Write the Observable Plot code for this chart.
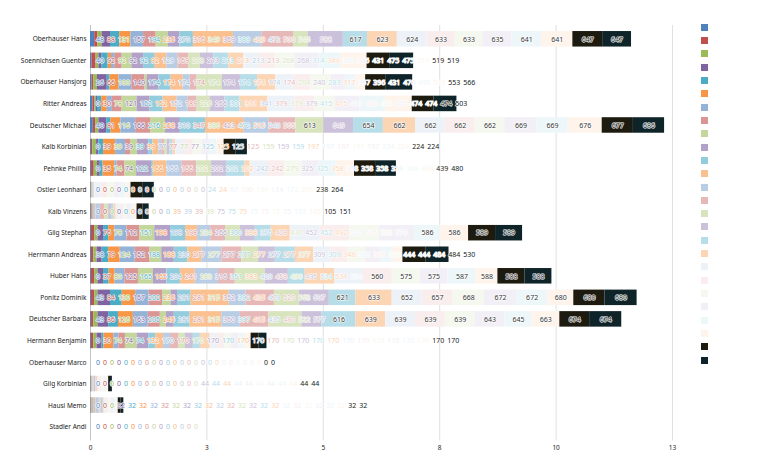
<!DOCTYPE html>
<html><head><meta charset="utf-8">
<script src="https://cdn.jsdelivr.net/npm/d3@7"></script>
<script src="https://cdn.jsdelivr.net/npm/@observablehq/plot@0.6"></script>
<style>
body{margin:0;background:#fff;font-family:"Noto Sans",sans-serif}
#wrap{position:relative;width:768px;height:475px;overflow:hidden}
#legend{position:absolute;left:700.5px;top:23.8px}
#legend div{width:7px;height:7px;margin-bottom:6.32px}
</style></head><body>
<div id="wrap"><div id="chart"></div><div id="legend"></div></div>
<script>
// ---------- data ----------
const players = ["Oberhauser Hans","Soennichsen Guenter","Oberhauser Hansjorg","Ritter Andreas","Deutscher Michael","Kalb Korbinian","Pehnke Phillip","Ostler Leonhard","Kalb Vinzens","Gilg Stephan","Herrmann Andreas","Huber Hans","Ponitz Dominik","Deutscher Barbara","Hermann Benjamin","Oberhauser Marco","Gilg Korbinian","Hausl Memo","Stadler Andi"];
const seriesKeys = ["S1","S2","S3","S4","S5","S6","S7","S8","S9","S10","S11","S12","S13","S14","S15","S16","S17","S18","S19","S20","S21","S22","S23","S24","S25","S26"];
const palette = ["#4F81BD","#C0504D","#9BBB59","#8064A2","#4BACC6","#F79646","#95B3D7","#D99694","#C3D69B","#B3A2C7","#93CDDD","#FAC090","#B9CDE5","#E6B9B8","#D7E4BD","#CCC1DA","#B7DEE8","#FCD5B5","#EDF2F9","#F9EDED","#F5F8EE","#F2EFF6","#EDF7FA","#FEF4EC","#1D1B10","#0F2429"];
const xTicks = [0, 2.5, 5, 7.5, 10, 12.5];
const xTickLabels = ["0","3","5","8","10","13"];

// segment sizes per player (x units), in series order
const w01 = [0.09,0.07,0.09,0.18,0.20,0.24,0.27,0.27,0.26,0.25,0.29,0.86,0.61,0.68,0.32,0.75,0.52,0.64,0.64,0.60,0.60,0.62,0.64,0.67,0.64,0.62];
const w02 = [0.03,0.09,0.06,0.06,0.14,0.07,0.07,0.16,0.21,0.25,0.25,0.25,0.24,0.23,0.25,0.29,0.32,0.32,0.32,0.36,0.43,0.50,0.47,0.57,0.50,0.50];
const w03 = [0.03,0.04,0.08,0.21,0.06,0.19,0.28,0.28,0.05,0.25,0.26,0.26,0.15,0.15,0.54,0.39,0.37,0.39,0.37,0.39,0.43,0.32,0.21,0.21,0.43,0.58];
const w04 = [0.05,0.04,0.03,0.03,0.09,0.12,0.11,0.21,0.32,0.28,0.28,0.30,0.24,0.19,0.28,0.32,0.32,0.60,0.58,0.43,0.43,0.54,0.54,0.58,0.47,0.49];
const w05 = [0.06,0.05,0.07,0.17,0.09,0.21,0.32,0.32,0.32,0.32,0.54,0.82,0.54,0.58,0.60,0.64,0.64,0.69,0.64,0.64,0.64,0.69,0.67,0.73,0.67,0.67];
const w06 = [0.02,0.03,0.08,0.05,0.10,0.26,0.21,0.11,0.15,0.24,0.09,0.13,0.06,0.06,0.06,0.06,0.06,0.06,0.19,0.19,0.19,0.17,0.15,0.15,0.25,0.25];
const w07 = [0.02,0.06,0.07,0.06,0.06,0.25,0.05,0.17,0.25,0.32,0.04,0.29,0.32,0.32,0.32,0.32,0.40,0.11,0.37,0.37,0.37,0.37,0.37,0.39,0.47,0.43];
const w08 = [0.005,0.005,0.005,0.005,0.005,0.005,0.005,0.005,0.005,0.005,0.005,0.005,0.005,0.005,0.005,0.005,0.005,0.005,0.14,0.14,0.14,0.13,0.12,0.11,0.25,0.25];
const w09 = [0.01,0.01,0.01,0.01,0.01,0.01,0.01,0.01,0.01,0.01,0.01,0.01,0.09,0.09,0.09,0.06,0.05,0.05,0.08,0.08,0.08,0.08,0.06,0.07,0.13,0.13];
const w10 = [0.02,0.07,0.07,0.12,0.11,0.13,0.26,0.28,0.32,0.34,0.32,0.26,0.28,0.32,0.32,0.32,0.34,0.41,0.64,0.64,0.64,0.75,0.56,0.60,0.58,0.58];
const w11 = [0.02,0.05,0.07,0.11,0.14,0.25,0.32,0.32,0.25,0.27,0.29,0.30,0.43,0.43,0.36,0.36,0.43,0.39,0.37,0.37,0.37,0.34,0.24,0.23,0.50,0.49];
const w12 = [0.02,0.07,0.07,0.12,0.12,0.13,0.21,0.29,0.32,0.29,0.29,0.32,0.50,0.36,0.64,0.50,0.36,0.64,0.59,0.64,0.60,0.60,0.60,0.47,0.58,0.58];
const w13 = [0.02,0.07,0.07,0.27,0.25,0.29,0.29,0.29,0.18,0.14,0.29,0.82,0.36,0.61,0.54,0.64,0.57,0.78,0.64,0.67,0.67,0.69,0.67,0.56,0.67,0.69];
const w14 = [0.02,0.05,0.09,0.23,0.21,0.32,0.32,0.26,0.13,0.17,0.34,0.68,0.40,0.61,0.71,0.43,0.73,0.64,0.64,0.64,0.64,0.64,0.58,0.60,0.64,0.69];
const w15 = [0.02,0.05,0.07,0.11,0.04,0.21,0.11,0.14,0.25,0.25,0.15,0.17,0.15,0.17,0.15,0.17,0.15,0.21,0.16,0.15,0.15,0.15,0.13,0.14,0.17,0.17];
const w16 = [0,0,0,0,0,0,0,0,0,0,0,0,0,0,0,0,0,0,0,0,0,0,0,0,0,0];
const w17 = [0.005,0.005,0.005,0.005,0.005,0.005,0.005,0.005,0.005,0.005,0.005,0.005,0.005,0.005,0.01,0.03,0.01,0.03,0.05,0.05,0.04,0.04,0.03,0.03,0.04,0.04];
const w18 = [0.006,0.006,0.006,0.006,0.006,0.006,0.015,0.015,0.015,0.015,0.015,0.015,0.06,0.02,0.02,0.03,0.02,0.02,0.05,0.05,0.05,0.05,0.05,0.05,0.06,0.06];
const w19 = [0,0,0,0,0,0,0,0,0,0,0,0,0,0,0];

// running point totals shown as labels
const t01 = [48,88,131,157,194,235,270,316,349,369,389,429,472,500,546,588,617,623,624,633,633,635,641,641,647,647];
const t02 = [40,92,92,92,92,92,129,169,213,213,213,213,213,213,268,268,314,349,369,386,431,475,475,519,519,519];
const t03 = [26,66,100,140,174,174,174,174,174,174,174,174,174,174,204,240,283,317,357,396,431,470,496,539,553,566];
const t04 = [0,30,78,121,152,152,152,189,226,266,301,301,341,379,379,379,415,415,415,430,445,445,474,474,474,503];
const t05 = [40,81,116,166,216,258,310,347,386,423,472,515,540,566,613,649,654,662,662,662,662,669,669,676,677,686];
const t06 = [0,39,39,39,39,39,77,77,77,77,125,125,125,125,159,159,159,197,197,197,197,197,224,224,224,224];
const t07 = [0,35,74,74,122,166,166,166,202,202,202,202,242,242,279,325,325,358,358,358,358,358,398,439,439,480];
const t08 = [0,0,0,0,0,0,0,0,0,0,0,0,0,0,0,0,24,24,67,100,134,134,172,205,238,264];
const t09 = [0,0,0,0,0,0,0,0,0,0,0,39,39,39,39,75,75,75,75,75,75,75,105,105,105,151];
const t10 = [0,76,78,112,151,198,198,198,234,266,300,338,375,408,430,452,452,492,522,535,555,570,586,586,589,589];
const t11 = [38,79,124,152,188,188,230,277,277,277,277,277,277,277,277,309,309,348,368,398,398,444,444,484,484,530];
const t12 = [0,37,80,125,165,165,204,241,283,316,351,383,420,458,490,495,534,534,534,560,575,575,587,588,588,588];
const t13 = [43,84,130,157,202,235,281,281,315,352,392,435,478,520,563,607,621,633,652,657,668,672,672,680,680,680];
const t14 = [43,86,126,163,205,245,281,281,315,360,397,415,435,480,522,577,616,639,639,639,639,643,645,663,674,674];
const t15 = [0,30,74,74,74,132,170,170,170,170,170,170,170,170,170,170,170,170,170,170,170,170,170,170,170,170];
const t16 = [0,0,0,0,0,0,0,0,0,0,0,0,0,0,0,0,0,0,0,0,0,0,0,0,0,0];
const t17 = [0,0,0,0,0,0,0,0,0,0,0,0,0,0,0,44,44,44,44,44,44,44,44,44,44,44];
const t18 = [0,0,0,32,32,32,32,32,32,32,32,32,32,32,32,32,32,32,32,32,32,32,32,32,32,32];
const t19 = [0,0,0,0,0,0,0,0,0,0,0,0,0,0,0];

const widthRows = [w01,w02,w03,w04,w05,w06,w07,w08,w09,w10,w11,w12,w13,w14,w15,w16,w17,w18,w19];
const totalRows = [t01,t02,t03,t04,t05,t06,t07,t08,t09,t10,t11,t12,t13,t14,t15,t16,t17,t18,t19];

// ---------- layout ----------
const W = 768, H = 475, ML = 90, MR = 96, MT = 25, MB = 34.6;
const X_MAX = 12.5;
const LABEL_SIZE = 7, GAP_PX = 3, PAD_PX = 5.5;
const pxPerUnit = (W - ML - MR) / X_MAX;
const ctx = document.createElement("canvas").getContext("2d");
ctx.font = `${LABEL_SIZE}px "Noto Sans"`;

const bars = [], labels = [];
players.forEach((name, r) => {
  const w = widthRows[r], t = totalRows[r];
  let acc = 0, prevRight = 0;
  w.forEach((v, i) => {
    const color = palette[i];
    bars.push({name, series: seriesKeys[i], value: v, color});
    const text = String(t[i]);
    const half = ctx.measureText(text).width / 2 / pxPerUnit;
    const c = acc + v / 2;
    acc += v;
    let x = c;
    if (i === 0) {
      const lim = PAD_PX / pxPerUnit;
      if (c - half < lim) x = lim + half;
    } else if (c - half < prevRight) {
      x = prevRight + GAP_PX / pxPerUnit + half;
    }
    const moved = (x - c) * pxPerUnit > 0.3;
    prevRight = x + half;
    const light = d3.lab(color).l > 84 && i < 24;
    labels.push({name, text, x, fill: (!moved && light) ? "#333333" : color});
  });
});

const chart = Plot.plot({
  width: W, height: H,
  marginLeft: ML, marginRight: MR, marginTop: MT, marginBottom: MB,
  style: {fontFamily: "Noto Sans", fontSize: "6.5px", color: "#222", background: "white"},
  x: {domain: [0, X_MAX], ticks: xTicks, tickFormat: d => xTickLabels[xTicks.indexOf(d)], tickSize: 0, tickPadding: 4, label: null},
  y: {domain: players, padding: 0.28, round: false, tickSize: 0, tickPadding: 4, label: null},
  color: {type: "identity"},
  marks: [
    Plot.ruleX(xTicks.slice(1), {stroke: "#e0e0e0"}),
    Plot.ruleX([0], {stroke: "#c4c4c4"}),
    Plot.barX(bars, Plot.stackX({x: "value", y: "name", fill: "color"})),
    Plot.text(labels, {x: "x", y: "name", text: "text", fill: "fill", stroke: "white", strokeWidth: 1.2, fontSize: LABEL_SIZE, fontFamily: "Noto Sans"})
  ]
});
document.getElementById("chart").appendChild(chart);

const legend = document.getElementById("legend");
seriesKeys.forEach((k, i) => {
  const d = document.createElement("div");
  d.style.background = palette[i];
  d.title = k;
  legend.appendChild(d);
});
</script>
</body></html>
